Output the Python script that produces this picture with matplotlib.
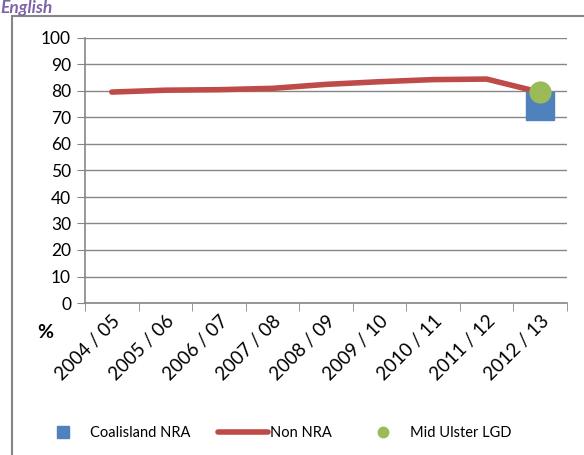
import numpy as np
import matplotlib.pyplot as plt
from matplotlib.patches import Rectangle

years = ['2004 / 05', '2005 / 06', '2006 / 07', '2007 / 08', '2008 / 09',
         '2009 / 10', '2010 / 11', '2011 / 12', '2012 / 13']
non_nra = [79.6, 80.3, 80.5, 81.0, 82.5, 83.5, 84.3, 84.5, 79.5]
coalisland = [74.5]
mid_ulster = [79.5]
yticks = list(range(0, 101, 10))

grey = '#868686'
plt.rcParams['font.family'] = ['Lato', 'DejaVu Sans']

fig = plt.figure(figsize=(5.84, 4.55), dpi=100)
ax = fig.add_axes([85 / 584, (455 - 303) / 455, (567 - 85) / 584, (303 - 38) / 455])

x = np.arange(len(years))
line, = ax.plot(x, non_nra, color='#BE4B48', lw=4, solid_capstyle='round', label='Non NRA', zorder=3)
sq, = ax.plot([x[-1]], coalisland, ls='none', marker='s', ms=20, color='#4F81BD',
              label='Coalisland NRA', zorder=4)
dot, = ax.plot([x[-1]], mid_ulster, ls='none', marker='o', ms=15, color='#9BBB59',
               label='Mid Ulster LGD', zorder=5)

ax.set_xlim(-0.5, len(years) - 0.5)
ax.set_ylim(0, 100)
ax.set_yticks(yticks)
ax.grid(axis='y', color=grey, lw=1)
ax.set_axisbelow(True)
for s in ['top', 'right']:
    ax.spines[s].set_visible(False)
for s in ['left', 'bottom']:
    ax.spines[s].set_color(grey)
    ax.spines[s].set_linewidth(1.2)
ax.tick_params(axis='y', length=6, color=grey, labelsize=12.5, pad=4)

ax.set_xticks(x)
ax.set_xticklabels(years, rotation=45, ha='right', va='top', rotation_mode='anchor', fontsize=13.5)
ax.tick_params(axis='x', which='major', length=0, pad=7)
ax.set_xticks(np.arange(len(years) + 1) - 0.5, minor=True)
ax.tick_params(axis='x', which='minor', length=6, color=grey, direction='out')

fig.text(45 / 584, 1 - 333 / 455, '%', fontsize=14, fontweight='bold', ha='center', va='center')
fig.text(0.0, 1 - 13 / 455, 'English', fontsize=12.5, fontweight='bold', fontstyle='italic',
         color='#7F63A8', ha='left', va='baseline')

fig.patches.append(Rectangle((12 / 584, -0.1), 1.1, 0.1 + (455 - 16) / 455, transform=fig.transFigure,
                             fill=False, edgecolor=grey, lw=1.5))

# three separate legend entries, laid out like the original
ly = 1 - 433 / 455
kw = dict(frameon=False, loc='center left', fontsize=10.5, borderpad=0, borderaxespad=0)
fig.legend([sq], ['Coalisland NRA'], bbox_to_anchor=(48 / 584, ly), markerscale=0.4,
           handlelength=2, handletextpad=0.86, **kw)
fig.legend([line], ['Non NRA'], bbox_to_anchor=(218 / 584, ly),
           handlelength=3.4, handletextpad=0.15, **kw)
fig.legend([dot], ['Mid Ulster LGD'], bbox_to_anchor=(368 / 584, ly), markerscale=0.5,
           handlelength=2, handletextpad=0.86, **kw)

plt.savefig('out.png', dpi=100)
